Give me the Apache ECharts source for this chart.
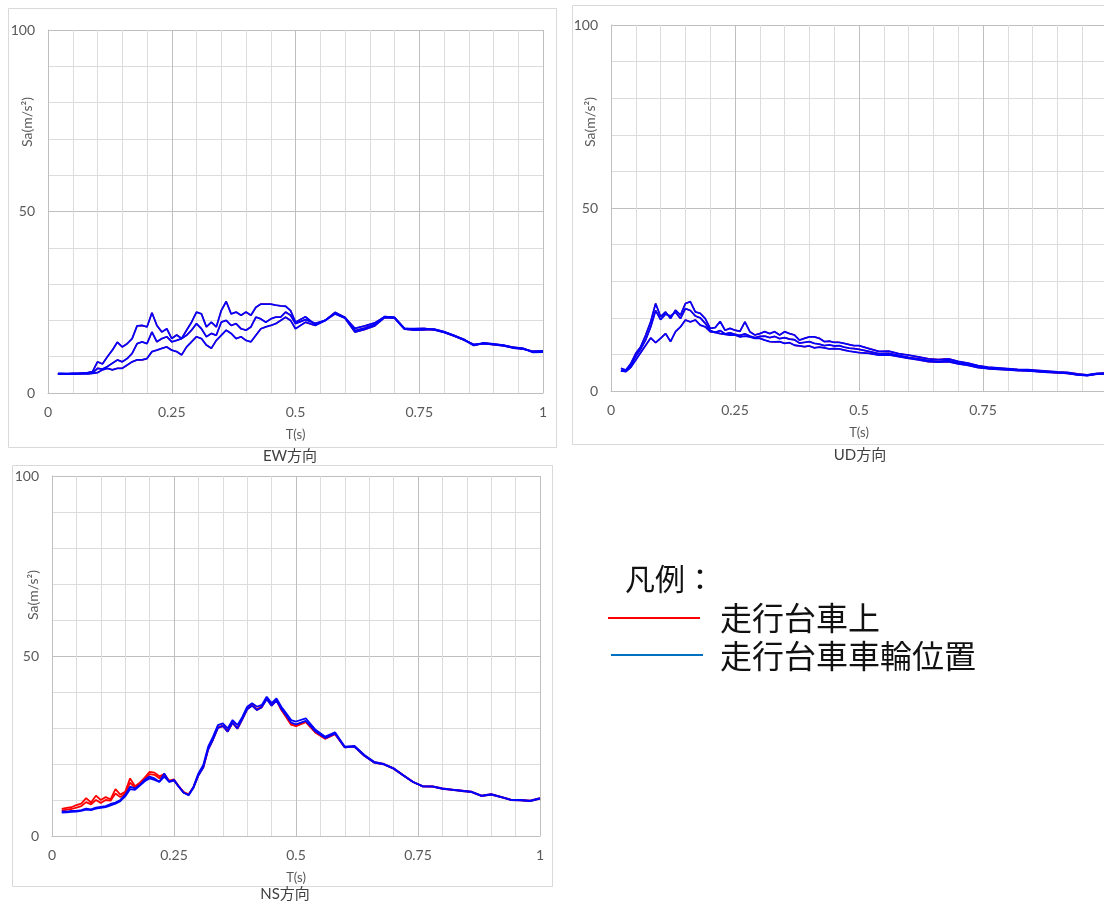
<!DOCTYPE html>
<html>
<head>
<meta charset="utf-8">
<script src="https://cdn.jsdelivr.net/npm/echarts@6.0.0/dist/echarts.min.js"></script>
<style>
    html, body { margin: 0; padding: 0; background: #fff; }
    #chart { width: 1104px; height: 901px; }
</style>
</head>
<body>
<div id="chart"></div>
<script>
// periods T(s): 0.01 steps up to 0.5, then 0.02 steps
var T = [0.02,0.03,0.04,0.05,0.06,0.07,0.08,0.09,0.10,
    0.11,0.12,0.13,0.14,0.15,0.16,0.17,0.18,0.19,0.20,
    0.21,0.22,0.23,0.24,0.25,0.26,0.27,0.28,0.29,0.30,
    0.31,0.32,0.33,0.34,0.35,0.36,0.37,0.38,0.39,0.40,
    0.41,0.42,0.43,0.44,0.45,0.46,0.47,0.48,0.49,0.50,
    0.52,0.54,0.56,0.58,0.60,0.62,0.64,0.66,0.68,0.70,
    0.72,0.74,0.76,0.78,0.80,0.82,0.84,0.86,0.88,0.90,
    0.92,0.94,0.96,0.98,1.00];

// EW direction
var ewA = [5.3,5.3,5.3,5.4,5.4,5.5,5.6,5.9,8.6,
    8.0,10.0,11.8,14.0,12.7,13.6,15.0,18.5,18.6,18.2,
    22.1,18.6,16.8,17.7,15.0,16.0,15.0,17.3,19.5,22.3,
    21.8,18.2,19.5,18.2,22.7,25.2,21.8,22.3,21.4,22.3,
    21.4,23.6,24.5,24.5,24.5,24.2,24.0,23.9,22.7,19.5,
    21.0,18.8,20.0,22.2,20.8,17.8,18.5,19.3,21.0,20.8,
    17.8,17.5,17.6,17.6,16.9,15.9,14.8,13.2,13.8,13.5,
    13.2,12.6,12.3,11.3,11.4];
var ewB = [5.3,5.3,5.3,5.3,5.3,5.4,5.4,5.5,6.8,
    6.6,7.3,8.2,9.1,8.6,9.5,10.9,13.6,14.1,13.6,
    16.8,14.1,15.0,15.5,14.1,14.5,15.0,15.9,17.3,19.1,
    17.7,15.5,16.4,15.9,19.5,20.0,18.6,19.1,17.7,17.3,
    18.2,20.9,20.4,19.5,20.4,20.9,20.9,22.3,21.4,19.1,
    20.2,19.2,20.0,22.0,20.8,17.2,17.9,18.9,21.0,20.8,
    17.8,17.7,17.8,17.4,16.7,15.7,14.6,13.4,13.6,13.3,
    13.0,12.4,12.1,11.5,11.6];
var ewC = [5.3,5.3,5.2,5.3,5.3,5.3,5.3,5.4,5.6,
    6.4,6.8,6.4,6.8,6.8,7.7,8.6,9.1,9.1,9.5,
    11.4,11.8,12.3,12.7,11.8,11.4,10.5,12.7,14.1,15.5,
    15.0,13.2,12.3,14.5,15.9,17.3,16.4,15.0,15.5,14.5,
    14.1,15.9,17.7,18.2,18.6,19.1,20.0,20.9,20.0,17.7,
    19.5,18.6,20.0,21.8,20.6,16.8,17.5,18.5,20.8,20.6,
    17.6,17.3,17.4,17.5,16.8,15.8,14.7,13.1,13.7,13.4,
    13.1,12.5,12.2,11.2,11.3];

// UD direction
var udA = [6.2,5.7,7.5,10.3,12.1,15.3,18.9,23.9,20.3,
    21.6,19.8,22.1,20.7,23.9,24.4,21.6,21.2,19.8,17.1,
    17.3,19.0,16.6,17.1,16.6,16.3,18.9,16.2,15.3,15.7,
    16.2,15.7,16.2,15.3,16.2,15.7,15.3,13.9,14.4,14.8,
    14.8,14.4,13.5,13.6,13.3,13.3,13.0,12.7,12.4,12.4,
    11.6,10.8,10.9,10.2,9.8,9.3,8.8,8.6,8.8,8.1,
    7.6,6.9,6.5,6.3,6.1,5.9,5.8,5.6,5.4,5.2,
    5.1,4.7,4.4,4.8,4.9];
var udB = [5.6,5.5,7.0,9.5,11.5,14.0,17.5,22.0,19.5,
    21.0,20.5,21.5,19.8,22.5,22.0,20.5,20.0,18.5,16.5,
    16.0,16.5,15.6,15.9,15.5,15.2,15.6,15.0,14.6,14.9,
    15.0,14.6,14.9,14.3,14.6,14.2,14.0,13.1,13.3,13.5,
    13.0,12.8,12.4,12.6,12.3,12.4,12.0,11.7,11.6,11.4,
    10.8,10.2,10.3,9.7,9.2,8.8,8.3,8.1,8.3,7.7,
    7.2,6.6,6.2,6.0,5.9,5.7,5.6,5.4,5.2,5.0,
    4.9,4.5,4.3,4.7,4.8];
var udC = [5.5,5.3,6.5,8.5,10.5,12.5,14.5,13.2,14.4,
    15.7,13.5,16.2,17.5,19.4,18.9,19.4,18.0,17.5,16.2,
    16.0,15.7,15.5,15.3,15.3,14.8,15.0,14.8,14.4,14.4,
    13.9,13.5,13.4,13.5,13.0,13.2,12.5,12.3,12.1,12.3,
    11.8,12.0,11.8,11.5,11.6,11.5,11.2,10.9,10.7,10.5,
    10.3,9.8,9.9,9.4,8.9,8.5,8.0,7.9,8.0,7.4,
    7.0,6.4,6.1,5.9,5.8,5.6,5.5,5.3,5.1,5.0,
    4.8,4.4,4.2,4.6,4.7];

// NS direction
var nsBlue1 = [6.8,6.8,7.0,7.0,7.2,7.6,7.4,7.9,8.1,
    8.3,8.9,9.3,10.0,11.4,13.7,13.2,14.2,15.6,16.5,
    16.0,15.1,17.4,15.1,15.6,13.7,12.0,11.4,13.7,17.4,
    19.7,24.8,27.6,30.8,31.3,29.9,32.2,30.8,33.1,35.9,
    36.9,35.9,36.4,38.7,36.9,38.2,35.9,34.1,32.2,31.8,
    32.7,29.5,27.6,28.8,24.8,25.0,22.5,20.6,20.0,18.8,
    16.9,15.0,13.8,13.8,13.2,12.9,12.6,12.3,11.2,11.6,
    10.9,10.1,10.0,9.8,10.5];
var nsBlue2 = [6.5,6.6,6.7,6.8,7.0,7.3,7.2,7.6,7.8,
    8.0,8.5,9.0,9.7,11.0,13.0,12.8,14.0,15.2,16.0,
    15.6,15.0,16.5,15.0,15.4,13.6,12.0,11.3,13.4,16.8,
    19.0,24.0,26.8,30.0,30.6,29.0,31.5,29.8,32.5,35.2,
    36.2,35.0,35.8,38.0,36.2,37.6,35.3,33.5,31.5,31.0,
    32.0,29.0,27.2,28.4,24.6,24.8,22.3,20.4,19.9,18.7,
    16.8,15.0,13.8,13.7,13.1,12.8,12.5,12.2,11.1,11.5,
    10.8,10.0,9.9,9.7,10.4];
var nsRed1 = [7.5,7.8,8.0,8.6,9.0,10.5,9.3,11.2,10.0,
    10.8,10.2,13.0,11.5,12.3,16.0,13.8,14.8,16.2,17.8,
    17.6,16.6,17.2,15.4,15.7,13.8,12.2,11.6,13.6,17.0,
    19.2,24.2,27.0,30.2,30.7,29.2,31.6,30.0,32.6,35.4,
    36.5,35.2,36.0,38.3,36.4,37.8,35.2,33.2,31.0,30.6,
    31.8,28.8,27.0,28.4,24.7,24.9,22.4,20.5,20.0,18.8,
    16.9,15.0,13.8,13.8,13.2,12.9,12.6,12.3,11.2,11.6,
    10.9,10.1,10.0,9.8,10.5];
var nsRed2 = [7.0,7.3,7.5,7.9,8.3,9.4,8.8,10.0,9.2,
    10.0,9.8,11.8,10.8,11.8,14.8,13.4,14.4,15.8,17.2,
    17.0,16.0,17.0,15.2,15.5,13.7,12.1,11.5,13.5,16.9,
    19.0,24.0,26.8,30.0,30.5,29.0,31.4,29.8,32.4,35.2,
    36.3,35.0,35.8,38.1,36.2,37.6,35.0,33.0,30.9,30.5,
    31.6,28.7,27.0,28.3,24.6,24.8,22.3,20.4,19.9,18.7,
    16.8,15.0,13.8,13.7,13.1,12.8,12.5,12.2,11.1,11.5,
    10.8,10.0,9.9,9.7,10.4];

var xTicks = [0, 0.25, 0.5, 0.75, 1];
var yTicks = [0, 50, 100];
var panelNames = ['EW方向', 'UD方向', 'NS方向'];
var legendNames = ['走行台車上', '走行台車車輪位置'];

var RED = '#ff0000';
var BLUE = '#0000ff';
var TXT = '#595959';
var FONT = 'Lato, "Noto Sans CJK JP", sans-serif';

var chart = echarts.init(document.getElementById('chart'));

function pairs(vals) {
    return T.map(function (t, i) { return [t, vals[i]]; });
}

function line(name, vals, color, gi, width) {
    return {
        name: name,
        type: 'line',
        xAxisIndex: gi,
        yAxisIndex: gi,
        data: pairs(vals),
        showSymbol: false,
        symbol: 'none',
        lineStyle: { color: color, width: width },
        emphasis: { disabled: true }
    };
}

function xAxis(gi) {
    return {
        type: 'value', gridIndex: gi,
        min: xTicks[0], max: xTicks[xTicks.length - 1], interval: xTicks[1] - xTicks[0],
        name: 'T(s)', nameLocation: 'middle', nameGap: 35,
        nameTextStyle: { color: TXT, fontSize: 13, fontFamily: FONT },
        axisLine: { show: true, lineStyle: { color: '#bfbfbf' } },
        axisTick: { show: false },
        axisLabel: { color: TXT, fontSize: 14, margin: 12, fontFamily: FONT },
        splitLine: { show: true, lineStyle: { color: '#bfbfbf' } },
        minorTick: { show: false, splitNumber: 5 },
        minorSplitLine: { show: true, lineStyle: { color: '#dcdcdc' } }
    };
}

function yAxis(gi) {
    return {
        type: 'value', gridIndex: gi,
        min: yTicks[0], max: yTicks[yTicks.length - 1], interval: yTicks[1] - yTicks[0],
        axisLine: { show: true, lineStyle: { color: '#bfbfbf' } },
        axisTick: { show: false },
        axisLabel: { color: TXT, fontSize: 14, margin: 13, fontFamily: FONT },
        splitLine: { show: true, lineStyle: { color: '#bfbfbf' } },
        minorTick: { show: false, splitNumber: 5 },
        minorSplitLine: { show: true, lineStyle: { color: '#dcdcdc' } }
    };
}

function label(text, x, y, size, rot, color) {
    return {
        type: 'text', x: x, y: y, rotation: rot || 0,
        style: {
            text: text, fill: color || TXT, font: size + 'px ' + FONT,
            align: 'center', verticalAlign: 'middle'
        }
    };
}

function box(x, y, w, h) {
    return {
        type: 'rect', z: -1,
        shape: { x: x, y: y, width: w, height: h },
        style: { fill: null, stroke: '#d9d9d9', lineWidth: 1 }
    };
}

var option = {
    animation: false,
    backgroundColor: '#fff',
    grid: [
        { left: 48, top: 30, width: 495, height: 363, outerBoundsMode: 'none' },
        { left: 611, top: 25, width: 496, height: 366, outerBoundsMode: 'none' },
        { left: 52, top: 476, width: 488, height: 360, outerBoundsMode: 'none' }
    ],
    xAxis: [xAxis(0), xAxis(1), xAxis(2)],
    yAxis: [yAxis(0), yAxis(1), yAxis(2)],
    series: [
        // red (走行台車上) under, blue (車輪位置) on top
        line(legendNames[0], ewA, RED, 0, 1.4),
        line(legendNames[0], ewB, RED, 0, 1.4),
        line(legendNames[0], ewC, RED, 0, 1.4),
        line(legendNames[1], ewA, BLUE, 0, 1.8),
        line(legendNames[1], ewB, BLUE, 0, 1.8),
        line(legendNames[1], ewC, BLUE, 0, 1.8),
        line(legendNames[0], udA, RED, 1, 1.4),
        line(legendNames[0], udB, RED, 1, 1.4),
        line(legendNames[0], udC, RED, 1, 1.4),
        line(legendNames[1], udA, BLUE, 1, 1.8),
        line(legendNames[1], udB, BLUE, 1, 1.8),
        line(legendNames[1], udC, BLUE, 1, 1.8),
        line(legendNames[0], nsRed1, RED, 2, 1.8),
        line(legendNames[0], nsRed2, RED, 2, 1.8),
        line(legendNames[1], nsBlue1, BLUE, 2, 1.8),
        line(legendNames[1], nsBlue2, BLUE, 2, 1.8)
    ],
    graphic: [
        box(8.5, 8.5, 548, 439),
        box(572.5, 5.5, 545, 439),
        box(12.5, 465.5, 540, 421),
        label('Sa(m/s²)', 27, 122, 14, Math.PI / 2),
        label('Sa(m/s²)', 590, 122, 14, Math.PI / 2),
        label('Sa(m/s²)', 33, 595, 14, Math.PI / 2),
        label(panelNames[0], 290, 456, 15, 0, '#404040'),
        label(panelNames[1], 860, 455, 15, 0, '#404040'),
        label(panelNames[2], 285, 894, 15, 0, '#404040'),
        // legend
        label('凡例：', 670, 580, 30, 0, '#111'),
        { type: 'line', shape: { x1: 608, y1: 618, x2: 700, y2: 618 }, style: { stroke: '#ff0000', lineWidth: 2 } },
        { type: 'line', shape: { x1: 611, y1: 655, x2: 703, y2: 655 }, style: { stroke: '#0070c0', lineWidth: 2 } },
        {
            type: 'text', x: 720, y: 618,
            style: { text: legendNames[0], fill: '#111', font: '32px "Noto Sans CJK JP"', align: 'left', verticalAlign: 'middle' }
        },
        {
            type: 'text', x: 720, y: 656,
            style: { text: legendNames[1], fill: '#111', font: '32px "Noto Sans CJK JP"', align: 'left', verticalAlign: 'middle' }
        }
    ]
};

chart.setOption(option);
window.addEventListener('resize', function () {
    chart.resize();
});
</script>
</body>
</html>
